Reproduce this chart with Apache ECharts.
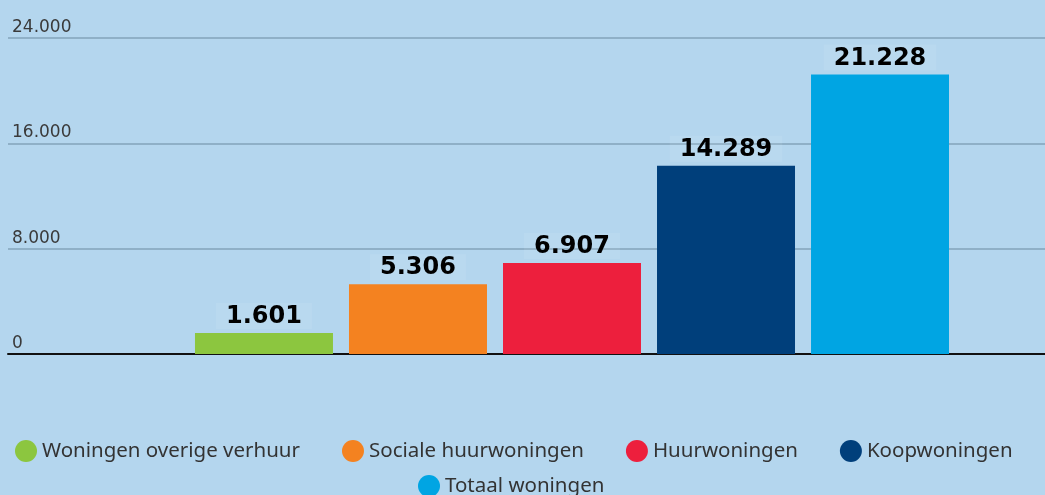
<!DOCTYPE html>
<html>
<head>
<meta charset="utf-8">
<script src="https://cdn.jsdelivr.net/npm/echarts@6/dist/echarts.min.js"></script>
<style>
  html, body { margin: 0; padding: 0; background: #b4d6ee; }
  #chart { width: 1045px; height: 495px; }
</style>
</head>
<body>
<div id="chart"></div>
<script>
const seriesNames = [
  "Woningen overige verhuur",
  "Sociale huurwoningen",
  "Huurwoningen",
  "Koopwoningen",
  "Totaal woningen"
];
const seriesValues = [1601, 5306, 6907, 14289, 21228];
const seriesColors = ["#8cc63f", "#f48220", "#ed1f3d", "#003f7b", "#00a5e3"];
const yTicks = [0, 8000, 16000, 24000];

// dutch thousands separator
const fmt = v => String(v).replace(/\B(?=(\d{3})+(?!\d))/g, ".");

const chart = echarts.init(document.getElementById("chart"));

const series = seriesNames.map((name, i) => ({
  name: name,
  type: "bar",
  xAxisIndex: 1,
  yAxisIndex: 1,
  barWidth: 138,
  barGap: "11.6%",
  data: [seriesValues[i]],
  itemStyle: { color: seriesColors[i] },
  label: {
    show: true,
    position: "top",
    distance: 4,
    formatter: p => fmt(p.value),
    fontFamily: "DejaVu Sans",
    fontWeight: "bold",
    fontSize: 24,
    color: "#000",
    backgroundColor: "rgba(255,255,255,0.08)",
    padding: [2, 10, 0, 10]
  }
}));

const legendCommon = {
  icon: "circle",
  itemWidth: 22,
  itemHeight: 22,
  itemGap: 42,
  textStyle: { fontFamily: "Noto Sans", fontSize: 20.5, color: "#333" }
};

chart.setOption({
  backgroundColor: "#b4d6ee",
  animation: false,
  grid: [
    { left: 8, right: 0, top: 38, bottom: 141 },
    { left: 187, right: 88, top: 38, bottom: 141 }
  ],
  legend: [
    Object.assign({ left: 10, top: 435, data: seriesNames.slice(0, 4) }, legendCommon),
    Object.assign({ left: 413, top: 470, data: seriesNames.slice(4) }, legendCommon)
  ],
  xAxis: [
    {
      gridIndex: 0,
      type: "category",
      data: [""],
      axisLine: { show: true, lineStyle: { color: "#111", width: 2 } },
      axisTick: { show: false },
      axisLabel: { show: false }
    },
    {
      gridIndex: 1,
      type: "category",
      data: [""],
      axisLine: { show: false },
      axisTick: { show: false },
      axisLabel: { show: false }
    }
  ],
  yAxis: [
    {
      gridIndex: 0,
      type: "value",
      min: yTicks[0],
      max: yTicks[yTicks.length - 1],
      interval: yTicks[1] - yTicks[0],
      axisLine: { show: false },
      axisTick: { show: false },
      splitLine: { lineStyle: { color: "#8fb0c7", width: 2 } },
      axisLabel: {
        inside: true,
        margin: 4,
        verticalAlign: "bottom",
        padding: [0, 0, 2, 0],
        formatter: v => fmt(v),
        fontFamily: "DejaVu Sans",
        fontSize: 17,
        color: "#3a3a3a"
      }
    },
    {
      gridIndex: 1,
      type: "value",
      min: yTicks[0],
      max: yTicks[yTicks.length - 1],
      interval: yTicks[1] - yTicks[0],
      show: false,
      splitLine: { show: false }
    }
  ],
  series: series
});
</script>
</body>
</html>
